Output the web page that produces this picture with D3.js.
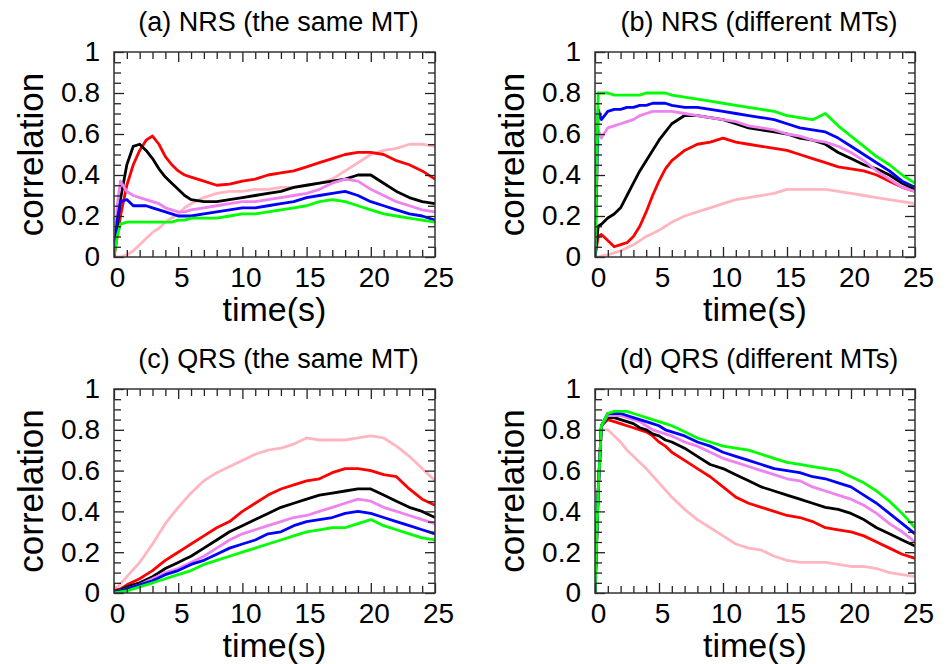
<!DOCTYPE html>
<html>
<head>
<meta charset="utf-8">
<script src="https://cdn.jsdelivr.net/npm/d3@7"></script>
<style>
  html, body { margin: 0; padding: 0; background: #fff; }
  svg { display: block; }
  text { font-family: "Liberation Sans", Arial, Helvetica, sans-serif; fill: #000; }
</style>
</head>
<body>
<svg id="chart" width="948" height="664"></svg>
<script>
// ---------------- data ----------------
const time = [0, 0.25, 0.5, 1, 1.5, 2, 2.5, 3, 3.5, 4, 4.5, 5, 5.5, 6,
  7, 8, 9, 10, 11, 12, 13, 14, 15, 16, 17, 18, 19, 20, 21, 22, 23, 24, 25];

const seriesNames = ["pink", "red", "black", "violet", "blue", "green"];
const seriesColors = ["#ffb6c1", "#ff0000", "#000000", "#ee82ee", "#0000ff", "#00ff00"];

const panelTitles = ["(a) NRS (the same MT)", "(b) NRS (different MTs)",
                     "(c) QRS (the same MT)", "(d) QRS (different MTs)"];

const xTickLabels = [0, 5, 10, 15, 20, 25];
const yTickLabels = [0, 0.2, 0.4, 0.6, 0.8, 1];

// panel (a)
const aPink   = [0, 0, 0, 0.01, 0.03, 0.06, 0.09, 0.12, 0.14, 0.17, 0.19, 0.21, 0.24, 0.26,
  0.29, 0.31, 0.32, 0.32, 0.33, 0.33, 0.34, 0.34, 0.35, 0.36, 0.38, 0.42, 0.46, 0.50, 0.52, 0.53, 0.55, 0.55, 0.54];
const aRed    = [0, 0.10, 0.20, 0.35, 0.45, 0.52, 0.57, 0.59, 0.55, 0.49, 0.45, 0.42, 0.40, 0.39,
  0.37, 0.35, 0.355, 0.37, 0.38, 0.40, 0.41, 0.42, 0.44, 0.46, 0.48, 0.50, 0.51, 0.51, 0.50, 0.47, 0.45, 0.42, 0.38];
const aBlack  = [0, 0.15, 0.28, 0.45, 0.54, 0.55, 0.52, 0.48, 0.43, 0.39, 0.36, 0.33, 0.30, 0.28,
  0.27, 0.27, 0.28, 0.29, 0.30, 0.31, 0.32, 0.34, 0.35, 0.36, 0.37, 0.38, 0.40, 0.40, 0.36, 0.32, 0.29, 0.27, 0.26];
const aViolet = [0, 0.25, 0.37, 0.32, 0.30, 0.29, 0.28, 0.27, 0.26, 0.24, 0.23, 0.22, 0.22, 0.23,
  0.24, 0.25, 0.26, 0.27, 0.27, 0.28, 0.29, 0.30, 0.31, 0.33, 0.36, 0.38, 0.37, 0.33, 0.30, 0.27, 0.25, 0.23, 0.22];
const aBlue   = [0, 0.18, 0.27, 0.28, 0.25, 0.25, 0.25, 0.24, 0.23, 0.22, 0.21, 0.20, 0.20, 0.20,
  0.21, 0.22, 0.23, 0.24, 0.24, 0.25, 0.26, 0.27, 0.29, 0.30, 0.31, 0.32, 0.30, 0.27, 0.25, 0.23, 0.21, 0.20, 0.18];
const aGreen  = [0, 0.10, 0.16, 0.17, 0.17, 0.17, 0.17, 0.17, 0.17, 0.17, 0.17, 0.18, 0.18, 0.19,
  0.19, 0.19, 0.20, 0.21, 0.21, 0.22, 0.23, 0.24, 0.25, 0.27, 0.28, 0.27, 0.25, 0.23, 0.21, 0.20, 0.19, 0.18, 0.17];

// panel (b)
const bPink   = [0, 0, 0.005, 0.01, 0.02, 0.03, 0.045, 0.06, 0.08, 0.10, 0.115, 0.13, 0.15, 0.17,
  0.20, 0.22, 0.24, 0.26, 0.28, 0.29, 0.30, 0.31, 0.33, 0.33, 0.33, 0.33, 0.32, 0.31, 0.30, 0.29, 0.28, 0.27, 0.26];
const bRed    = [0, 0.10, 0.11, 0.08, 0.05, 0.06, 0.07, 0.10, 0.15, 0.22, 0.30, 0.37, 0.43, 0.47,
  0.52, 0.55, 0.56, 0.58, 0.56, 0.55, 0.54, 0.53, 0.52, 0.50, 0.48, 0.46, 0.44, 0.43, 0.42, 0.40, 0.37, 0.34, 0.32];
const bBlack  = [0, 0.15, 0.16, 0.19, 0.21, 0.24, 0.30, 0.36, 0.42, 0.47, 0.52, 0.57, 0.61, 0.65,
  0.69, 0.69, 0.68, 0.67, 0.65, 0.63, 0.62, 0.61, 0.60, 0.58, 0.57, 0.55, 0.51, 0.48, 0.45, 0.43, 0.40, 0.36, 0.33];
const bViolet = [0, 0.62, 0.58, 0.63, 0.64, 0.65, 0.66, 0.67, 0.69, 0.70, 0.71, 0.71, 0.71, 0.71,
  0.70, 0.69, 0.68, 0.67, 0.66, 0.64, 0.63, 0.62, 0.60, 0.59, 0.57, 0.56, 0.54, 0.51, 0.47, 0.42, 0.38, 0.34, 0.32];
const bBlue   = [0, 0.72, 0.67, 0.71, 0.72, 0.72, 0.73, 0.73, 0.74, 0.74, 0.75, 0.75, 0.75, 0.74,
  0.73, 0.73, 0.72, 0.71, 0.70, 0.69, 0.68, 0.67, 0.65, 0.63, 0.62, 0.61, 0.58, 0.54, 0.50, 0.46, 0.42, 0.37, 0.34];
const bGreen  = [0, 0.80, 0.80, 0.80, 0.79, 0.79, 0.79, 0.79, 0.79, 0.80, 0.80, 0.80, 0.80, 0.79,
  0.78, 0.77, 0.76, 0.75, 0.74, 0.73, 0.72, 0.71, 0.69, 0.68, 0.67, 0.70, 0.64, 0.59, 0.54, 0.49, 0.45, 0.40, 0.36];

// panel (c)
const cPink   = [0.01, 0.03, 0.045, 0.08, 0.115, 0.15, 0.195, 0.24, 0.29, 0.34, 0.38, 0.42, 0.455, 0.49,
  0.55, 0.59, 0.62, 0.65, 0.68, 0.70, 0.71, 0.73, 0.76, 0.75, 0.75, 0.75, 0.76, 0.77, 0.76, 0.72, 0.67, 0.61, 0.55];
const cRed    = [0.01, 0.015, 0.02, 0.04, 0.055, 0.07, 0.09, 0.11, 0.135, 0.16, 0.18, 0.20, 0.22, 0.24,
  0.28, 0.32, 0.35, 0.40, 0.44, 0.48, 0.51, 0.53, 0.55, 0.56, 0.59, 0.61, 0.61, 0.60, 0.58, 0.57, 0.51, 0.46, 0.43];
const cBlack  = [0.01, 0.012, 0.015, 0.03, 0.04, 0.05, 0.065, 0.08, 0.10, 0.12, 0.135, 0.15, 0.165, 0.18,
  0.22, 0.26, 0.30, 0.33, 0.36, 0.39, 0.42, 0.44, 0.46, 0.48, 0.49, 0.50, 0.51, 0.51, 0.48, 0.45, 0.42, 0.40, 0.37];
const cViolet = [0.005, 0.008, 0.01, 0.02, 0.03, 0.04, 0.055, 0.07, 0.085, 0.10, 0.11, 0.12, 0.135, 0.15,
  0.18, 0.22, 0.26, 0.29, 0.31, 0.33, 0.35, 0.37, 0.38, 0.40, 0.42, 0.44, 0.46, 0.45, 0.42, 0.40, 0.38, 0.36, 0.34];
const cBlue   = [0.005, 0.008, 0.01, 0.02, 0.03, 0.04, 0.05, 0.06, 0.075, 0.09, 0.10, 0.11, 0.125, 0.14,
  0.16, 0.19, 0.22, 0.24, 0.26, 0.29, 0.30, 0.33, 0.35, 0.36, 0.37, 0.39, 0.40, 0.39, 0.37, 0.35, 0.33, 0.31, 0.29];
const cGreen  = [0, 0.003, 0.005, 0.01, 0.02, 0.03, 0.04, 0.05, 0.06, 0.07, 0.08, 0.09, 0.10, 0.11,
  0.14, 0.16, 0.18, 0.20, 0.22, 0.24, 0.26, 0.28, 0.30, 0.31, 0.32, 0.32, 0.34, 0.36, 0.33, 0.31, 0.29, 0.27, 0.26];

// panel (d)
const dPink   = [0, 0.50, 0.80, 0.80, 0.77, 0.74, 0.70, 0.67, 0.64, 0.61, 0.575, 0.54, 0.505, 0.47,
  0.41, 0.36, 0.32, 0.28, 0.24, 0.22, 0.21, 0.18, 0.16, 0.15, 0.15, 0.15, 0.14, 0.13, 0.13, 0.12, 0.10, 0.09, 0.08];
const dRed    = [0, 0.50, 0.82, 0.85, 0.84, 0.83, 0.82, 0.81, 0.80, 0.79, 0.77, 0.74, 0.72, 0.69,
  0.65, 0.61, 0.57, 0.52, 0.47, 0.44, 0.42, 0.40, 0.38, 0.37, 0.35, 0.32, 0.31, 0.30, 0.28, 0.25, 0.22, 0.19, 0.17];
const dBlack  = [0, 0.50, 0.82, 0.86, 0.86, 0.85, 0.84, 0.83, 0.81, 0.80, 0.78, 0.77, 0.75, 0.74,
  0.71, 0.67, 0.63, 0.61, 0.58, 0.55, 0.52, 0.50, 0.48, 0.46, 0.44, 0.42, 0.41, 0.39, 0.36, 0.32, 0.29, 0.26, 0.23];
const dViolet = [0, 0.50, 0.82, 0.87, 0.87, 0.87, 0.86, 0.85, 0.84, 0.82, 0.80, 0.79, 0.78, 0.77,
  0.74, 0.72, 0.69, 0.66, 0.64, 0.62, 0.60, 0.58, 0.56, 0.55, 0.52, 0.50, 0.48, 0.46, 0.43, 0.39, 0.34, 0.30, 0.25];
const dBlue   = [0, 0.50, 0.82, 0.88, 0.88, 0.88, 0.87, 0.86, 0.85, 0.84, 0.83, 0.82, 0.80, 0.79,
  0.77, 0.74, 0.72, 0.69, 0.67, 0.65, 0.63, 0.61, 0.60, 0.59, 0.57, 0.56, 0.54, 0.52, 0.48, 0.44, 0.39, 0.34, 0.29];
const dGreen  = [0, 0.50, 0.82, 0.88, 0.89, 0.89, 0.89, 0.88, 0.87, 0.86, 0.85, 0.84, 0.83, 0.82,
  0.79, 0.76, 0.74, 0.72, 0.71, 0.70, 0.68, 0.66, 0.64, 0.63, 0.62, 0.61, 0.60, 0.57, 0.54, 0.50, 0.45, 0.39, 0.32];

const panelSeries = [
  [aPink, aRed, aBlack, aViolet, aBlue, aGreen],
  [bPink, bRed, bBlack, bViolet, bBlue, bGreen],
  [cPink, cRed, cBlack, cViolet, cBlue, cGreen],
  [dPink, dRed, dBlack, dViolet, dBlue, dGreen]
];

// ---------------- layout ----------------
const frames = [
  {x0: 114, x1: 435, y0: 52,  y1: 257},
  {x0: 595, x1: 915, y0: 52,  y1: 257},
  {x0: 114, x1: 435, y0: 389, y1: 593},
  {x0: 595, x1: 915, y0: 389, y1: 593}
];

const svg = d3.select("#chart");
const minorX = d3.range(0, 26, 1);
const minorY = d3.range(0, 1.0001, 0.05).map(v => +v.toFixed(2));
const fmtY = d => (d === 0 ? "0" : d === 1 ? "1" : d3.format(".1f")(d));

frames.forEach((f, i) => {
  const x = d3.scaleLinear().domain([0, 25]).range([f.x0, f.x1]);
  const y = d3.scaleLinear().domain([0, 1]).range([f.y1, f.y0]);
  const g = svg.append("g");

  const clipId = "clip" + i;
  svg.append("clipPath").attr("id", clipId).append("rect")
    .attr("x", f.x0).attr("y", f.y0).attr("width", f.x1 - f.x0).attr("height", f.y1 - f.y0);

  const line = d3.line().x((d, k) => x(time[k])).y(d => y(d));
  const lg = g.append("g").attr("clip-path", `url(#${clipId})`);
  panelSeries[i].forEach((vals, s) => {
    lg.append("path").datum(vals)
      .attr("d", line)
      .attr("fill", "none")
      .attr("stroke", seriesColors[s])
      .attr("stroke-width", 2.8)
      .attr("stroke-linejoin", "round");
  });

  const tickStyle = sel => {
    sel.select(".domain").remove();
    sel.selectAll(".tick line").attr("stroke", "#222").attr("stroke-width", 1.3);
  };
  const isMajorX = v => v % 5 === 0;
  const isMajorY = v => Math.abs(v * 5 - Math.round(v * 5)) < 1e-6;
  const labelStyle = s => s.selectAll("text").attr("font-size", 28)
      .attr("font-family", '"Liberation Sans", Arial, sans-serif').attr("fill", "#000");

  // bottom
  g.append("g").attr("transform", `translate(0,${f.y1})`)
    .call(d3.axisBottom(x).tickValues(minorX.filter(v => !isMajorX(v))).tickSize(-7).tickFormat(""))
    .call(tickStyle);
  g.append("g").attr("transform", `translate(0,${f.y1})`)
    .call(d3.axisBottom(x).tickValues(xTickLabels).tickSize(-10).tickPadding(10).tickFormat(d3.format("d")))
    .call(tickStyle)
    .call(labelStyle)
    .call(s => s.selectAll("text").attr("dx", 3));
  // top
  g.append("g").attr("transform", `translate(0,${f.y0})`)
    .call(d3.axisTop(x).tickValues(minorX.filter(v => !isMajorX(v))).tickSize(-7).tickFormat(""))
    .call(tickStyle);
  g.append("g").attr("transform", `translate(0,${f.y0})`)
    .call(d3.axisTop(x).tickValues(xTickLabels).tickSize(-10).tickFormat(""))
    .call(tickStyle);
  // left
  g.append("g").attr("transform", `translate(${f.x0},0)`)
    .call(d3.axisLeft(y).tickValues(minorY.filter(v => !isMajorY(v))).tickSize(-7).tickFormat(""))
    .call(tickStyle);
  g.append("g").attr("transform", `translate(${f.x0},0)`)
    .call(d3.axisLeft(y).tickValues(yTickLabels).tickSize(-10).tickPadding(14).tickFormat(fmtY))
    .call(tickStyle)
    .call(labelStyle);
  // right
  g.append("g").attr("transform", `translate(${f.x1},0)`)
    .call(d3.axisRight(y).tickValues(minorY.filter(v => !isMajorY(v))).tickSize(-7).tickFormat(""))
    .call(tickStyle);
  g.append("g").attr("transform", `translate(${f.x1},0)`)
    .call(d3.axisRight(y).tickValues(yTickLabels).tickSize(-10).tickFormat(""))
    .call(tickStyle);

  // frame
  g.append("rect")
    .attr("x", f.x0).attr("y", f.y0)
    .attr("width", f.x1 - f.x0).attr("height", f.y1 - f.y0)
    .attr("fill", "none").attr("stroke", "#333").attr("stroke-width", 1.5);

  // title
  g.append("text")
    .attr("x", (f.x0 + f.x1) / 2 + 4).attr("y", f.y0 - 21)
    .attr("text-anchor", "middle").attr("font-size", 27)
    .text(panelTitles[i]);

  // axis labels
  g.append("text")
    .attr("x", (f.x0 + f.x1) / 2).attr("y", f.y1 + 64)
    .attr("text-anchor", "middle").attr("font-size", 34)
    .text("time(s)");
  g.append("text")
    .attr("transform", `translate(${f.x0 - 71},${(f.y0 + f.y1) / 2}) rotate(-90)`)
    .attr("text-anchor", "middle").attr("font-size", 35)
    .text("correlation");
});
</script>
</body>
</html>
